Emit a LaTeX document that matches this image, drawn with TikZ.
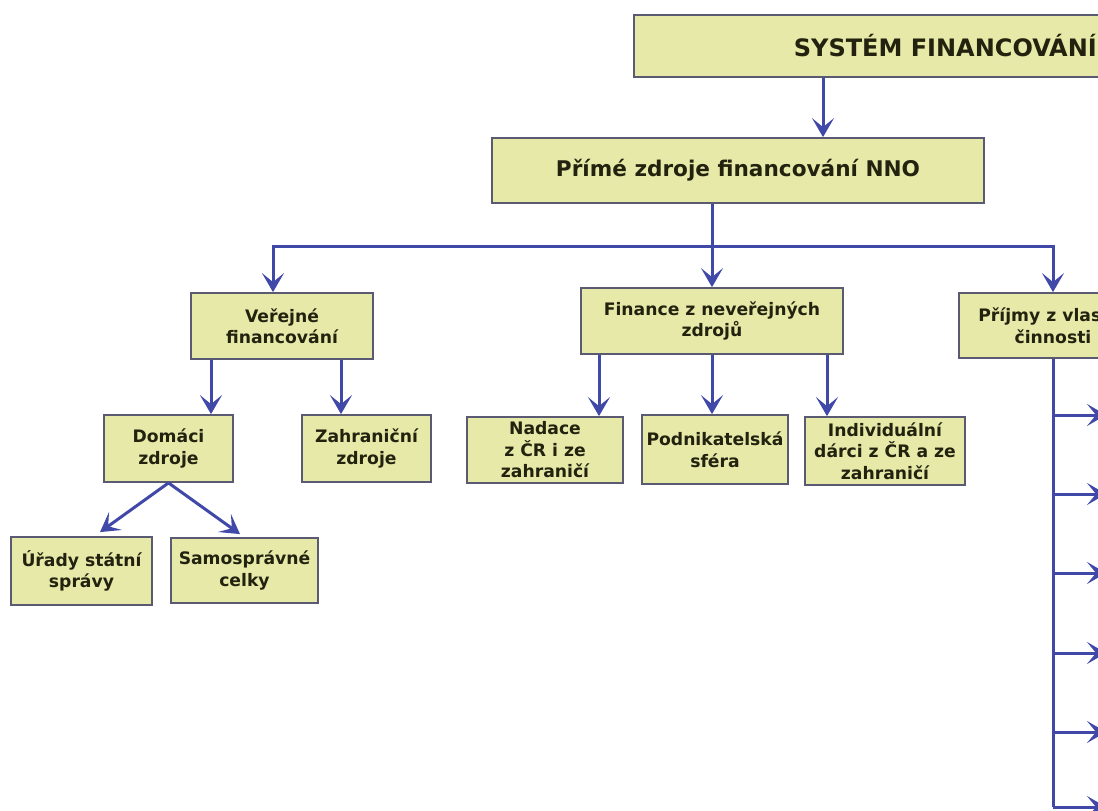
\documentclass[tikz,border=0pt]{standalone}
\usepackage{fontspec}
\setmainfont{DejaVu Sans}
\usetikzlibrary{arrows.meta}

\definecolor{boxfill}{HTML}{E6E9A8}
\definecolor{boxline}{HTML}{5A5A72}
\definecolor{boxtext}{HTML}{22220F}
\definecolor{arrowblue}{HTML}{4048A8}

\tikzset{
  box/.style={draw=boxline, line width=1.8pt, fill=boxfill, text=boxtext,
    align=center, inner sep=2pt,
    font=\fontsize{17.2}{21.5}\selectfont\bfseries},
  bigbox/.style={box, font=\fontsize{21.6}{26}\selectfont\bfseries},
  arr/.style={draw=arrowblue, line width=3pt,
    -{Stealth[length=19pt, width=22pt, inset=9pt]}},
  bus/.style={draw=arrowblue, line width=3pt}
}

\begin{document}
\begin{tikzpicture}[x=1pt, y=-1pt]

  \useasboundingbox (0, 0) rectangle (1098, 811);
  \clip (0, 0) rectangle (1098, 811);

  % top levels
  \node[box, anchor=west, minimum height=62pt, inner xsep=160pt,
    font=\fontsize{24}{28}\selectfont\bfseries] (sys) at (633, 46) {SYSTÉM FINANCOVÁNÍ};
  \node[bigbox, minimum width=492pt, minimum height=65pt] (prime) at (738, 170.5) {Přímé zdroje financování NNO};

  \node[box, minimum width=182pt, minimum height=66pt] (verej) at (282, 326) {Veřejné\\financování};
  \node[box, minimum width=262pt, minimum height=66pt] (neverej) at (712, 321) {Finance z neveřejných\\zdrojů};
  \node[box, minimum width=188pt, minimum height=65pt] (prijmy) at (1053, 325.5) {Příjmy z vlastní\\činnosti};

  % second level
  \node[box, minimum width=129pt, minimum height=67pt] (domaci) at (168.5, 448.5) {Domáci\\zdroje};
  \node[box, minimum width=129pt, minimum height=67pt] (zahr) at (366.5, 448.5) {Zahraniční\\zdroje};
  \node[box, minimum width=156pt, minimum height=66pt] (nadace) at (545, 450) {Nadace\\z ČR i ze\\zahraničí};
  \node[box, minimum width=146pt, minimum height=69pt] (podnik) at (715, 449.5) {Podnikatelská\\sféra};
  \node[box, minimum width=160pt, minimum height=68pt] (indiv) at (885, 451) {Individuální\\dárci z ČR a ze\\zahraničí};

  \node[box, minimum width=141pt, minimum height=68pt] (urady) at (81.5, 571) {Úřady státní\\správy};
  \node[box, minimum width=147pt, minimum height=65pt] (samo) at (244.5, 570.5) {Samosprávné\\celky};

  % connectors
  \draw[arr] ([xshift=85pt]prime.north |- sys.south) -- ([xshift=85pt]prime.north);

  \coordinate (fork) at (712, 246);
  \draw[bus] (neverej.north |- prime.south) -- (fork);
  \draw[arr] (fork) -| ([xshift=-9pt]verej.north);
  \draw[arr] (fork) -- (neverej.north);
  \draw[arr] (fork) -| (prijmy.north);

  \draw[arr] ([xshift=42.5pt]domaci.north |- verej.south) -- ([xshift=42.5pt]domaci.north);
  \draw[arr] ([xshift=-25.5pt]zahr.north |- verej.south) -- ([xshift=-25.5pt]zahr.north);

  \draw[arr] (domaci.south) -- ([xshift=18.5pt, yshift=4pt]urady.north);
  \draw[arr] (domaci.south) -- ([xshift=-4.5pt, yshift=3pt]samo.north);

  \draw[arr] ([xshift=54pt]nadace.north |- neverej.south) -- ([xshift=54pt]nadace.north);
  \draw[arr] ([xshift=-3pt]podnik.north |- neverej.south) -- ([xshift=-3pt]podnik.north);
  \draw[arr] ([xshift=-58pt]indiv.north |- neverej.south) -- ([xshift=-58pt]indiv.north);

  % own activity branches
  \coordinate (spine) at (1053, 807);
  \draw[bus] (prijmy.south) -- (spine);
  \foreach \y [count=\i] in {415, 494, 573, 653, 732, 807} {
    \coordinate (out\i) at (1106, \y);
    \draw[arr] (prijmy.south |- out\i) -- (out\i);
  }

\end{tikzpicture}
\end{document}
